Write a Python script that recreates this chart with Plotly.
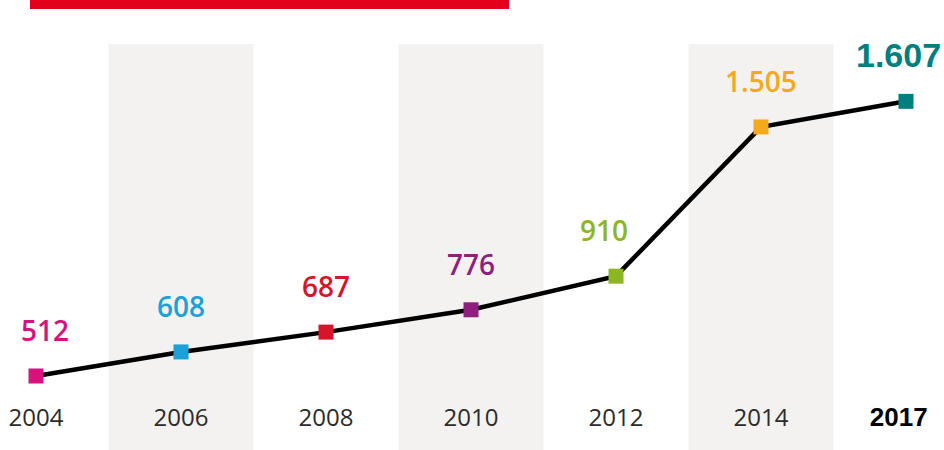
import plotly.graph_objects as go

years = ["2004", "2006", "2008", "2010", "2012", "2014", "2017"]
values = [512, 608, 687, 776, 910, 1505, 1607]
value_labels = ["512", "608", "687", "776", "910", "1.505", "1.607"]
point_colors = ["#d6127d", "#1ca0d8", "#d7142a", "#8e1f7e", "#8db624", "#f4a81c", "#007f7f"]
shaded_years = ["2006", "2010", "2014"]

label_xshift = [9, 0, 0, 0, -12, 0, -8]

fig = go.Figure()

# shaded bands behind alternate years
for yr in shaded_years:
    i = years.index(yr)
    fig.add_shape(type="rect", xref="x", yref="paper",
                  x0=i - 0.5, x1=i + 0.5, y0=0, y1=0.902,
                  fillcolor="#f3f2f1", line=dict(width=0), layer="below")

# red banner at top (cut off)
fig.add_shape(type="rect", xref="paper", yref="paper",
              x0=30 / 944, x1=509 / 944, y0=1 - 9 / 450, y1=1.02,
              fillcolor="#e2001a", line=dict(width=0), layer="above")

fig.add_trace(go.Scatter(
    x=years, y=values, mode="lines+markers",
    line=dict(color="black", width=4.5),
    marker=dict(symbol="square", size=15, color=point_colors),
    hoverinfo="skip", showlegend=False,
))

for i, (yr, v, lab, c) in enumerate(zip(years, values, value_labels, point_colors)):
    last = i == len(years) - 1
    fig.add_annotation(
        x=i, y=v, xref="x", yref="y", text=lab, showarrow=False,
        yshift=46, xshift=label_xshift[i],
        font=dict(family="Arial" if last else "Open Sans",
                  size=34 if last else 28, color=c,
                  weight=700 if last else 600),
    )

ticktext = [y if y != "2017" else
            "<span style='font-family:Arial;font-weight:bold;color:black;font-size:26px'>2017&#160;&#160;</span>"
            for y in years]

fig.update_layout(
    width=944, height=450,
    margin=dict(l=0, r=0, t=0, b=0),
    paper_bgcolor="white", plot_bgcolor="white",
    xaxis=dict(
        type="category", categoryorder="array", categoryarray=years,
        range=[-36 / 145, (944 - 36) / 145],
        tickvals=years, ticktext=ticktext,
        ticklabelposition="inside", ticklabelstandoff=16,
        tickfont=dict(family="Open Sans", size=24, color="#2b2b2b", weight=400),
        showgrid=False, zeroline=False, showline=False, ticks="",
    ),
    yaxis=dict(range=[217, 2011], visible=False),
)

fig.write_html("out.html", config={"displayModeBar": False},
               post_script="document.body.style.margin='0px';")
